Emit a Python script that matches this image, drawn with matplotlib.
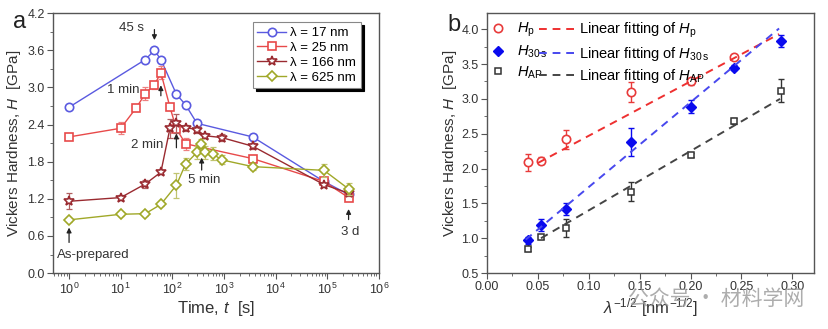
import numpy as np
import matplotlib.pyplot as plt
from matplotlib.ticker import MultipleLocator, LogLocator, NullFormatter

plt.rcParams['font.family'] = ['Liberation Sans', 'DejaVu Sans']
plt.rcParams['mathtext.fontset'] = 'custom'
plt.rcParams['mathtext.rm'] = 'Liberation Sans'
plt.rcParams['mathtext.it'] = 'Liberation Sans:italic'

# ---- panel a data : hardness vs annealing time ----
t17 = [1, 30, 45, 60, 120, 180, 300, 3600, 86400, 259200]
h17 = [2.68, 3.45, 3.60, 3.45, 2.89, 2.72, 2.42, 2.20, 1.48, 1.27]
e17 = [0.02, 0.03, 0.03, 0.03, 0.03, 0.03, 0.06, 0.04, 0.03, 0.03]

t25 = [1, 10, 20, 30, 45, 60, 90, 120, 180, 3600, 86400, 259200]
h25 = [2.20, 2.34, 2.67, 2.90, 3.04, 3.24, 2.68, 2.33, 2.09, 1.85, 1.48, 1.22]
e25 = [0.03, 0.10, 0.05, 0.10, 0.06, 0.10, 0.05, 0.15, 0.10, 0.05, 0.05, 0.04]

t166 = [1, 10, 30, 60, 90, 120, 180, 300, 420, 900, 3600, 86400, 259200]
h166 = [1.16, 1.22, 1.44, 1.63, 2.34, 2.42, 2.35, 2.32, 2.22, 2.19, 2.05, 1.43, 1.29]
e166 = [0.13, 0.04, 0.06, 0.03, 0.15, 0.15, 0.05, 0.05, 0.04, 0.05, 0.05, 0.03, 0.05]

t625 = [1, 10, 30, 60, 120, 180, 300, 360, 420, 600, 900, 3600, 86400, 259200]
h625 = [0.86, 0.95, 0.96, 1.11, 1.42, 1.76, 1.95, 2.09, 1.95, 1.93, 1.83, 1.72, 1.66, 1.36]
e625 = [0.03, 0.03, 0.03, 0.03, 0.20, 0.10, 0.10, 0.07, 0.10, 0.10, 0.07, 0.05, 0.10, 0.10]

# ---- panel b data : hardness vs lambda^-1/2 ----
x_hp = [0.04, 0.0535, 0.0776, 0.1414, 0.2, 0.2425]
hp = [2.09, 2.11, 2.42, 3.10, 3.25, 3.60]
hp_err = [0.12, 0.05, 0.14, 0.14, 0.05, 0.02]

x_all = [0.04, 0.0535, 0.0776, 0.1414, 0.2, 0.2425, 0.2887]
h30 = [0.97, 1.19, 1.42, 2.38, 2.89, 3.45, 3.83]
h30_err = [0.05, 0.08, 0.08, 0.20, 0.09, 0.03, 0.09]
hap = [0.85, 1.02, 1.15, 1.67, 2.20, 2.68, 3.12]
hap_err = [0.03, 0.03, 0.13, 0.14, 0.03, 0.04, 0.17]

# end points of the fitted lines as drawn
fit_hp_x = [0.050, 0.287]
fit_hp_y = [2.08, 3.93]
fit_30_x = [0.038, 0.287]
fit_30_y = [0.98, 4.01]
fit_ap_x = [0.053, 0.288]
fit_ap_y = [1.00, 3.00]

fig = plt.figure(figsize=(8.29, 3.29), dpi=100)
axa = fig.add_axes([0.064, 0.170, 0.393, 0.790])
axb = fig.add_axes([0.5875, 0.170, 0.394, 0.790])

def style_axis(ax):
	for s in ax.spines.values():
		s.set_color('#555555')
		s.set_linewidth(1.0)
	ax.tick_params(which='both', direction='out', labelsize=9, colors='#555555', labelcolor='#333333', top=False, right=False)
	ax.tick_params(which='major', length=4, pad=2)
	ax.tick_params(which='minor', length=2)

# panel a
series = [
	(t17, h17, e17, 'o', '#5a5ae0', '#8080e8', r'λ = 17 nm'),
	(t25, h25, e25, 's', '#e84a4a', '#ee8080', r'λ = 25 nm'),
	(t166, h166, e166, '*', '#9a2a30', '#b06060', r'λ = 166 nm'),
	(t625, h625, e625, 'D', '#a0a828', '#c0c470', r'λ = 625 nm'),
]
for t, h, e, m, c, ec, lab in series :
	ms = 6
	if m == '*' :
		ms = 7.5
	if m == 'D' :
		ms = 5
	axa.errorbar(t, h, yerr=e, fmt='none', ecolor=ec, elinewidth=0.9, capsize=2.5, capthick=0.9)
	axa.plot(t, h, '-', marker=m, color=c, markersize=ms, markerfacecolor='white',
		markeredgecolor=c, markeredgewidth=1.2, linewidth=1.0, label=lab)

axa.set_xscale('log')
axa.set_xlim(10 ** -0.31, 1e6)
axa.set_ylim(0, 4.2)
axa.yaxis.set_major_locator(MultipleLocator(0.6))
axa.yaxis.set_minor_locator(MultipleLocator(0.3))
axa.xaxis.set_major_locator(LogLocator(base=10, numticks=10))
axa.xaxis.set_minor_locator(LogLocator(base=10, subs=np.arange(2, 10), numticks=20))
axa.xaxis.set_minor_formatter(NullFormatter())
axa.yaxis.set_major_formatter(plt.FuncFormatter(lambda v, p : '%.1f' % v))
style_axis(axa)
axa.set_xlabel('Time, $\\mathit{t}$  [s]', fontsize=12, color='#333333', labelpad=2)
axa.set_ylabel('Vickers Hardness, $\\mathit{H}$  [GPa]', fontsize=11, color='#333333', labelpad=3)

leg = axa.legend(loc='upper right', fontsize=9.5, frameon=True, fancybox=False, shadow={'color': 'black', 'alpha': 1.0},
	handlelength=2.2, borderpad=0.35, labelspacing=0.2, handletextpad=0.3, bbox_to_anchor=(0.965, 0.99))
leg.get_frame().set_edgecolor('#888888')
leg.get_frame().set_linewidth(0.8)

arrow = dict(arrowstyle='-|>', color='#222222', lw=0.9, mutation_scale=7)
axa.annotate('', xy=(45, 3.72), xytext=(45, 3.98), arrowprops=arrow)
axa.text(28, 3.96, '45 s', fontsize=9.5, ha='right', va='center', color='#333333')
axa.annotate('', xy=(60, 3.08), xytext=(60, 2.82), arrowprops=arrow)
axa.text(11, 2.96, '1 min', fontsize=9.5, ha='center', va='center', color='#333333')
axa.annotate('', xy=(120, 2.30), xytext=(120, 1.98), arrowprops=arrow)
axa.text(32, 2.07, '2 min', fontsize=9.5, ha='center', va='center', color='#333333')
axa.annotate('', xy=(370, 1.91), xytext=(370, 1.62), arrowprops=arrow)
axa.text(420, 1.50, '5 min', fontsize=9.5, ha='center', va='center', color='#333333')
axa.annotate('', xy=(1, 0.78), xytext=(1, 0.45), arrowprops=arrow)
axa.text(3.0, 0.29, 'As-prepared', fontsize=9.5, ha='center', va='center', color='#333333')
axa.annotate('', xy=(259200, 1.08), xytext=(259200, 0.82), arrowprops=arrow)
axa.text(2.8e5, 0.66, '3 d', fontsize=9.5, ha='center', va='center', color='#333333')

fig.text(0.016, 0.915, 'a', fontsize=17, color='#222222')

# panel b
axb.errorbar(x_hp, hp, yerr=hp_err, fmt='none', ecolor='#e83a3a', capsize=2.5, elinewidth=1.0, capthick=1.0)
axb.errorbar(x_all, h30, yerr=h30_err, fmt='none', ecolor='#0a0aee', capsize=2.5, elinewidth=1.0, capthick=1.0)
axb.errorbar(x_all, hap, yerr=hap_err, fmt='none', ecolor='#333333', capsize=2.5, elinewidth=1.0, capthick=1.0)
l1, = axb.plot(x_hp, hp, 'o', color='#e83a3a', markerfacecolor='white', markeredgewidth=1.2, markersize=6)
l2, = axb.plot(x_all, h30, 'D', color='#0a0aee', markersize=5.5)
l3, = axb.plot(x_all, hap, 's', color='#333333', markerfacecolor='white', markeredgewidth=1.1, markersize=5)
f1, = axb.plot(fit_hp_x, fit_hp_y, '--', color='#ee3030', lw=1.4, dashes=(4, 3))
f2, = axb.plot(fit_30_x, fit_30_y, '--', color='#4848ee', lw=1.4, dashes=(4, 3))
f3, = axb.plot(fit_ap_x, fit_ap_y, '--', color='#444444', lw=1.4, dashes=(4, 3))

axb.set_xlim(0, 0.321)
axb.set_ylim(0.5, 4.23)
axb.xaxis.set_major_locator(MultipleLocator(0.05))
axb.xaxis.set_minor_locator(MultipleLocator(0.025))
axb.yaxis.set_major_locator(MultipleLocator(0.5))
axb.yaxis.set_minor_locator(MultipleLocator(0.25))
axb.xaxis.set_major_formatter(plt.FuncFormatter(lambda v, p : '%.2f' % v))
axb.yaxis.set_major_formatter(plt.FuncFormatter(lambda v, p : '%.1f' % v))
style_axis(axb)
axb.set_xlabel('$\\mathit{λ}^{\\mathrm{-1/2}}$ [nm$^{\\mathrm{-1/2}}$]', fontsize=12, color='#333333', labelpad=2)
axb.set_ylabel('Vickers Hardness, $\\mathit{H}$  [GPa]', fontsize=11, color='#333333', labelpad=2)

leg1 = axb.legend([l1, l2, l3], ['$H_\\mathrm{p}$', '$H_\\mathrm{30\\,s}$', '$H_\\mathrm{AP}$'],
	loc='upper left', bbox_to_anchor=(-0.025, 1.02), frameon=False, fontsize=10.5, handlelength=0.8,
	handletextpad=0.9, labelspacing=0.3)
axb.add_artist(leg1)
axb.legend([f1, f2, f3], ['Linear fitting of $H_\\mathrm{p}$', 'Linear fitting of $H_\\mathrm{30\\,s}$',
	'Linear fitting of $H_\\mathrm{AP}$'], loc='upper left', bbox_to_anchor=(0.12, 1.02), frameon=False,
	fontsize=10.5, handlelength=2.6, handletextpad=0.1, labelspacing=0.3)

fig.text(0.540, 0.905, 'b', fontsize=17, color='#222222')
fig.text(0.757, 0.072, '公众号 · 材料学网', fontsize=15, color='#999999', alpha=0.8,
	family=['Noto Sans CJK SC', 'DejaVu Sans'])

fig.savefig('out.png', dpi=100)
